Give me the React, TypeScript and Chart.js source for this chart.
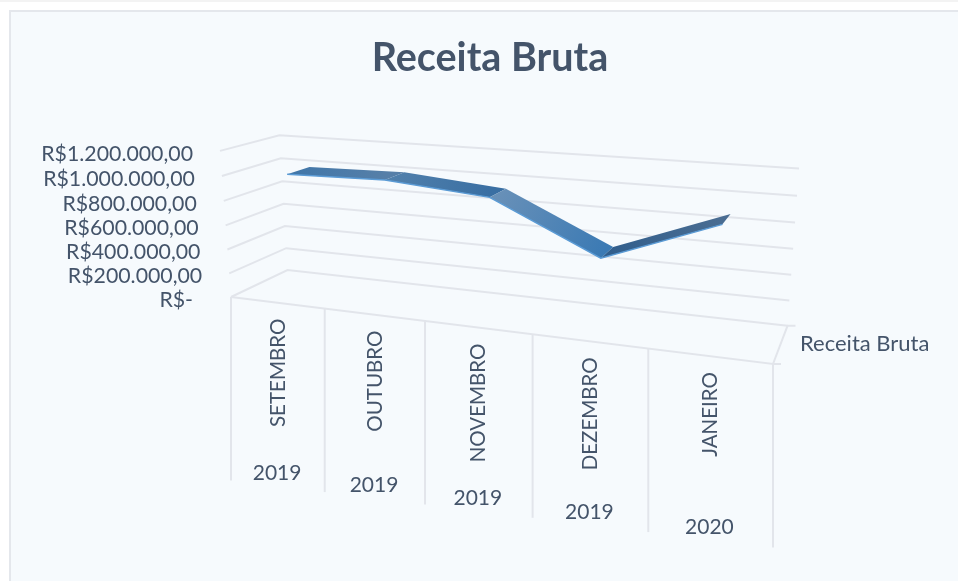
import React, { useEffect, useRef } from "react";
import { Chart, registerables } from "chart.js";

Chart.register(...registerables);

const categories = ["SETEMBRO", "OUTUBRO", "NOVEMBRO", "DEZEMBRO", "JANEIRO"];
const years = ["2019", "2019", "2019", "2019", "2020"];
const receita = [998000, 1013000, 942000, 556000, 883000];
const yTickValues = [0, 200000, 400000, 600000, 800000, 1000000, 1200000];
const yTickLabels = ["R$-", "R$200.000,00", "R$400.000,00", "R$600.000,00", "R$800.000,00", "R$1.000.000,00", "R$1.200.000,00"];
const seriesName = "Receita Bruta";

const TEXT = "#44546a";
const GRID = "#e2e5eb";
const FONT = "Lato";
const segColors = [
  ["#3f76a9", "#567fa8"],
  ["#5281ac", "#3a6fa3"],
  ["#6a91b8", "#3b7ab4"],
  ["#2f5d8c", "#4a6d92"],
];

// Perspective box: floor corners on the picture, then the lift of the value axis.
function makeProjection() {
  const [x0, y0, x1, y1, x2, y2, x3, y3] = [231, 297, 773, 364, 787.5, 325.8, 287.5, 270];
  const dx1 = x1 - x2, dx2 = x3 - x2, sx = x0 - x1 + x2 - x3;
  const dy1 = y1 - y2, dy2 = y3 - y2, sy = y0 - y1 + y2 - y3;
  const den = dx1 * dy2 - dx2 * dy1;
  const g = (sx * dy2 - dx2 * sy) / den;
  const h = (dx1 * sy - sx * dy1) / den;
  const a = x1 - x0 + g * x1, b = x3 - x0 + h * x3;
  const d = y1 - y0 + g * y1, e = y3 - y0 + h * y3;
  const k = -0.0374;
  const cx = 220 * (k + 1) - x0, cy = 151.7 * (k + 1) - y0 - 0.8;
  return (u: number, t: number, v: number): [number, number] => {
    const w = g * u + h * t + k * v + 1;
    return [(a * u + b * t + cx * v + x0) / w, (d * u + e * t + cy * v + y0) / w];
  };
}
const project = makeProjection();
const D_FRONT = 0.3;
const D_BACK = 0.7;

const box3d = {
  id: "box3d",
  beforeDraw(chart: any) {
    const ctx = chart.ctx;
    ctx.save();
    ctx.fillStyle = "#ffffff";
    ctx.fillRect(0, 0, chart.width, chart.height);
    ctx.fillStyle = "#f3f3f3";
    ctx.fillRect(0, 0, chart.width, 2);
    ctx.fillStyle = "#f6fafd";
    ctx.fillRect(9, 10, chart.width - 9, chart.height - 10);
    ctx.fillStyle = "#e4e7ec";
    ctx.fillRect(9, 10, chart.width - 9, 2);
    ctx.fillRect(9, 10, 2, chart.height - 10);
    ctx.restore();
  },
  afterDatasetsDraw(chart: any) {
    const ctx = chart.ctx;
    const area = chart.chartArea;
    const yS = chart.scales.y;
    const toU = (px: number) => (px - area.left) / (area.right - area.left);
    const toV = (py: number) => (area.bottom - py) / (area.bottom - area.top);
    const line = (pts: [number, number][]) => {
      ctx.beginPath();
      pts.forEach((p, i) => (i ? ctx.lineTo(p[0], p[1]) : ctx.moveTo(p[0], p[1])));
      ctx.stroke();
    };
    ctx.save();
    ctx.strokeStyle = GRID;
    ctx.lineWidth = 2;
    // walls
    yTickValues.forEach((val) => {
      const v = toV(yS.getPixelForValue(val));
      line([project(0, 0, v), project(0, 1, v), project(1, 1, v)]);
    });
    // floor front + side edge
    const fl = project(0, 0, 0), fr = project(1, 0, 0), br = project(1, 1, 0);
    line([fl, fr, br, [br[0] + 8, br[1]]]);
    line([fr, [fr[0] + 8, fr[1]]]);
    // category dividers
    for (let i = 0; i <= categories.length; i++) {
      const p = project(i / categories.length, 0, 0);
      line([p, [p[0], p[1] + 183.5]]);
    }
    // ribbon
    const meta = chart.getDatasetMeta(0).data;
    const pts = meta.map((el: any) => ({ u: toU(el.x), v: toV(el.y) }));
    for (let i = 0; i < pts.length - 1; i++) {
      const A = project(pts[i].u, D_FRONT, pts[i].v);
      const B = project(pts[i + 1].u, D_FRONT, pts[i + 1].v);
      const C = project(pts[i + 1].u, D_BACK, pts[i + 1].v);
      const E = project(pts[i].u, D_BACK, pts[i].v);
      const grad = ctx.createLinearGradient(A[0], A[1], B[0], B[1]);
      grad.addColorStop(0, segColors[i][0]);
      grad.addColorStop(1, segColors[i][1]);
      ctx.fillStyle = grad;
      ctx.beginPath();
      ctx.moveTo(A[0], A[1]);
      ctx.lineTo(B[0], B[1]);
      ctx.lineTo(C[0], C[1]);
      ctx.lineTo(E[0], E[1]);
      ctx.closePath();
      ctx.fill();
    }
    ctx.strokeStyle = "#5b9bd5";
    ctx.lineWidth = 1.5;
    line(pts.map((p: any) => project(p.u, D_FRONT, p.v)));

    // texts
    ctx.fillStyle = TEXT;
    ctx.textBaseline = "middle";
    ctx.textAlign = "right";
    ctx.font = `21.3px ${FONT}`;
    yTickValues.forEach((val, i) => {
      const v = toV(yS.getPixelForValue(val));
      const p = project(0, 0, v);
      ctx.fillText(yTickLabels[i], p[0] - (val === 0 ? 38 : 27), p[1] + 3);
    });
    categories.forEach((name, i) => {
      const p = project((i + 0.5) / categories.length, 0, 0);
      ctx.save();
      ctx.translate(p[0] + 1, p[1] + 16);
      ctx.rotate(-Math.PI / 2);
      ctx.textAlign = "right";
      ctx.font = `20.5px ${FONT}`;
      ctx.fillText(name, 0, 0);
      ctx.restore();
      ctx.textAlign = "center";
      ctx.font = `21px ${FONT}`;
      ctx.fillText(years[i], p[0], p[1] + 171);
    });
    ctx.textAlign = "left";
    ctx.font = `22px ${FONT}`;
    ctx.fillText(seriesName, 800, 344);
    ctx.restore();
  },
};

export default function App() {
  const ref = useRef<HTMLCanvasElement>(null);
  useEffect(() => {
    const chart = new Chart(ref.current as HTMLCanvasElement, {
      type: "line",
      data: {
        labels: categories,
        datasets: [{ label: seriesName, data: receita, showLine: false, pointRadius: 0 }],
      },
      options: {
        animation: false,
        responsive: false,
        layout: { padding: { left: 231, right: 209, top: 0, bottom: 60 } },
        plugins: {
          legend: { display: false },
          tooltip: { enabled: false },
          title: {
            display: true,
            text: "Receita Bruta",
            color: TEXT,
            fullSize: false,
            font: { family: FONT, size: 39.5, weight: "bold" },
            padding: { top: 35, bottom: 20 },
          },
        },
        scales: {
          x: { type: "category", offset: true, display: false },
          y: { type: "linear", min: 0, max: 1200000, display: false },
        },
      },
      plugins: [box3d],
    } as any);
    return () => chart.destroy();
  }, []);
  return (
    <div style={{ position: "absolute", left: 0, top: 0, width: 958, height: 581 }}>
      <canvas ref={ref} width={958} height={581} style={{ display: "block" }} />
    </div>
  );
}
